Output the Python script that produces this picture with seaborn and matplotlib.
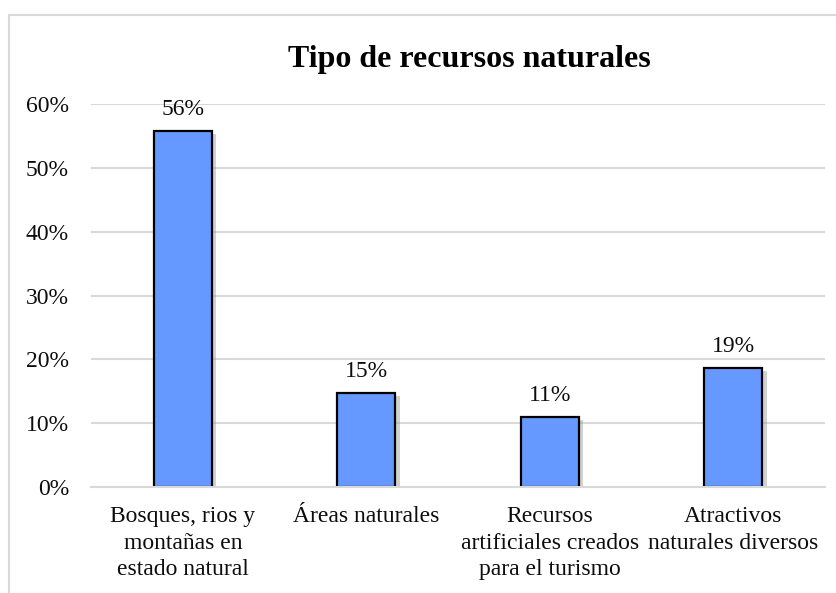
import matplotlib
matplotlib.use("Agg")
import matplotlib.pyplot as plt
import matplotlib.patheffects as pe
from matplotlib.lines import Line2D
import seaborn as sns
import pandas as pd

categorias = ["Bosques, rios y\nmontañas en\nestado natural",
              "Áreas naturales",
              "Recursos\nartificiales creados\npara el turismo",
              "Atractivos\nnaturales diversos"]
porcentajes = [0.558, 0.147, 0.110, 0.186]
etiquetas = ["56%", "15%", "11%", "19%"]
y_ticks = [0, 0.1, 0.2, 0.3, 0.4, 0.5, 0.6]

sns.set_theme(style="white")
plt.rcParams['font.family'] = ['Liberation Serif', 'DejaVu Serif']

df = pd.DataFrame({"categoria": categorias, "valor": porcentajes})

fig = plt.figure(figsize=(8.36, 5.93), dpi=100)
ax = fig.add_axes([0.109, 0.179, 0.878, 0.645])

sns.barplot(data=df, x="categoria", y="valor", color="#6699FF",
            edgecolor="black", linewidth=1.6, width=0.316, saturation=1, ax=ax)

# sombra de las barras
for p in ax.patches:
    p.set_path_effects([pe.SimplePatchShadow(offset=(3, -2), shadow_rgbFace="#999999", alpha=0.45),
                        pe.Normal()])

for p, lab in zip(ax.patches, etiquetas):
    ax.annotate(lab, (p.get_x() + p.get_width() / 2, p.get_height()),
                xytext=(0, 8), textcoords="offset points",
                ha="center", va="bottom", fontsize=17, color="#0d0d0d")

ax.set_ylim(0, 0.6)
ax.set_yticks(y_ticks)
ax.set_yticklabels(["{:.0f}%".format(v * 100) for v in y_ticks])
ax.set_xlim(-0.5, 3.5)
ax.yaxis.grid(True, color="#d9d9d9", linewidth=1.5)
ax.set_axisbelow(True)
for s in ["top", "right", "left"]:
    ax.spines[s].set_visible(False)
ax.spines["bottom"].set_color("#d9d9d9")
ax.spines["bottom"].set_linewidth(1.5)
ax.tick_params(axis="y", labelsize=17, pad=16, length=0, labelcolor="#0d0d0d")
ax.tick_params(axis="x", labelsize=17, pad=14, length=0, labelcolor="#0d0d0d")
for t in ax.get_xticklabels():
    t.set_linespacing(1.35)
ax.set_xlabel("")
ax.set_ylabel("")

fig.text(0.562, 0.900, "Tipo de recursos naturales", ha="center", va="center",
         fontsize=23, fontweight="bold", color="black")

# borde del área del gráfico
fig.add_artist(Line2D([9 / 836, 1.0], [1 - 14.5 / 593] * 2, color="#d9d9d9", linewidth=1.5))
fig.add_artist(Line2D([9 / 836] * 2, [0, 1 - 14.5 / 593], color="#d9d9d9", linewidth=1.5))

fig.savefig("out.png", dpi=100)
